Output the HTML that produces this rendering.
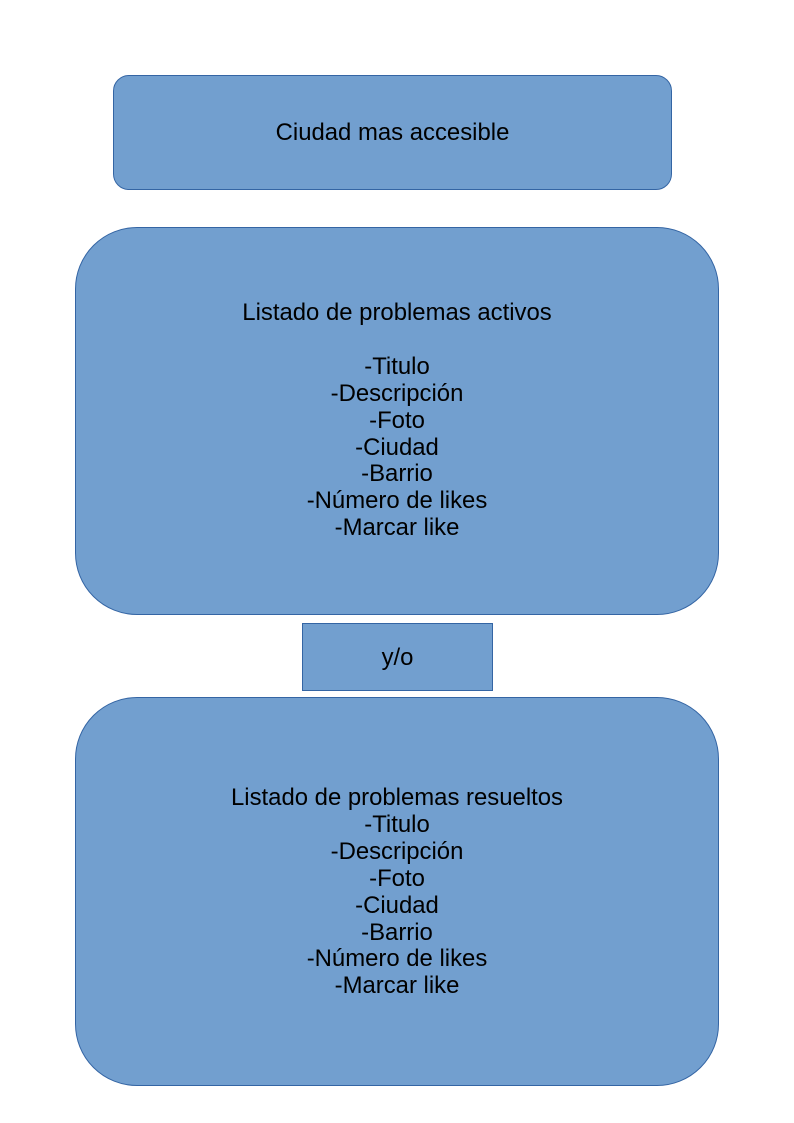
<!DOCTYPE html>
<html><head><meta charset="utf-8"><style>
body{margin:0;width:794px;height:1123px;background:#fff;position:relative;font-family:"Liberation Sans",sans-serif;}
.b{position:absolute;background:#729fcf;border:1px solid #3465a4;box-sizing:border-box;}
.t{position:absolute;left:0;width:100%;text-align:center;font-size:23.9px;line-height:26.9px;color:#000;}
</style></head><body>
<div class="b" style="left:113px;top:75px;width:559px;height:115px;border-radius:16px;"></div>
<div class="t" style="left:113px;width:559px;top:120px;">Ciudad mas accesible</div>

<div class="b" style="left:75px;top:227px;width:644px;height:388px;border-radius:62px;"></div>
<div class="t" style="left:75px;width:644px;top:300px;">Listado de problemas activos<br>&nbsp;<br>-Titulo<br>-Descripción<br>-Foto<br>-Ciudad<br>-Barrio<br>-Número de likes<br>-Marcar like</div>

<div class="b" style="left:302px;top:623px;width:191px;height:68px;"></div>
<div class="t" style="left:302px;width:191px;top:645px;">y/o</div>

<div class="b" style="left:75px;top:697px;width:644px;height:389px;border-radius:62px;"></div>
<div class="t" style="left:75px;width:644px;top:785px;">Listado de problemas resueltos<br>-Titulo<br>-Descripción<br>-Foto<br>-Ciudad<br>-Barrio<br>-Número de likes<br>-Marcar like</div>
</body></html>
